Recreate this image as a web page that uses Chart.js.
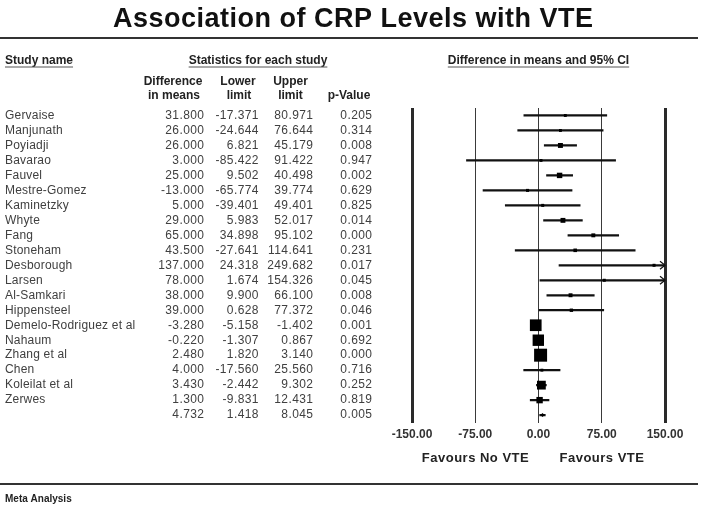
<!DOCTYPE html>
<html><head><meta charset="utf-8">
<script src="https://cdn.jsdelivr.net/npm/chart.js@4/dist/chart.umd.min.js"></script>
<style>html,body{margin:0;padding:0;background:#fff;}canvas{display:block}</style>
</head><body>
<canvas id="c" width="704" height="510"></canvas>
<script>
// ---- data ----
const studies = ['Gervaise','Manjunath','Poyiadji','Bavarao','Fauvel','Mestre-Gomez','Kaminetzky','Whyte','Fang','Stoneham','Desborough','Larsen','Al-Samkari','Hippensteel','Demelo-Rodriguez et al','Nahaum','Zhang et al','Chen','Koleilat et al','Zerwes'];
const diffs   = [31.8, 26, 26, 3, 25, -13, 5, 29, 65, 43.5, 137, 78, 38, 39, -3.28, -0.22, 2.48, 4, 3.43, 1.3];
const lowers  = [-17.371, -24.644, 6.821, -85.422, 9.502, -65.774, -39.401, 5.983, 34.898, -27.641, 24.318, 1.674, 9.9, 0.628, -5.158, -1.307, 1.82, -17.56, -2.442, -9.831];
const uppers  = [80.971, 76.644, 45.179, 91.422, 40.498, 39.774, 49.401, 52.017, 95.102, 114.641, 249.682, 154.326, 66.1, 77.372, -1.402, 0.867, 3.14, 25.56, 9.302, 12.431];
const pValues = [0.205, 0.314, 0.008, 0.947, 0.002, 0.629, 0.825, 0.014, 0.000, 0.231, 0.017, 0.045, 0.008, 0.046, 0.001, 0.692, 0.000, 0.716, 0.252, 0.819];
// relative study weights
const weights = [1.2, 1.2, 3.5, 1.2, 4.2, 1.3, 1.3, 3.4, 2.2, 1.8, 1.3, 1.3, 2.2, 1.6, 19.5, 18.5, 24.0, 1.2, 11.0, 5.8];
const summaryDiff = 4.732, summaryLower = 1.418, summaryUpper = 8.045, summaryP = 0.005;
const xTicks = [-150, -75, 0, 75, 150];

// ---- derived ----
const rowLabels = studies.concat(['']);
const allDiffs = diffs.concat([summaryDiff]);
const allLowers = lowers.concat([summaryLower]);
const allUppers = uppers.concat([summaryUpper]);
const allP = pValues.concat([summaryP]);
const FONT = '"Liberation Sans", Arial, sans-serif';

function txt(ctx, s, x, y, font, color, align, ls, base) {
  ctx.save();
  ctx.font = font; ctx.fillStyle = color; ctx.textAlign = align || 'left';
  ctx.textBaseline = base || 'middle';
  ls = ls || 0;
  if ('letterSpacing' in ctx) ctx.letterSpacing = ls + 'px';
  let xx = x;
  if (align === 'right') xx = x + ls; else if (align === 'center') xx = x + ls / 2;
  ctx.fillText(s, xx, y);
  const w = ctx.measureText(s).width;
  ctx.restore();
  return w;
}
function hline(ctx, x1, x2, y, w, color) {
  ctx.save(); ctx.strokeStyle = color; ctx.lineWidth = w;
  ctx.beginPath(); ctx.moveTo(x1, y); ctx.lineTo(x2, y); ctx.stroke(); ctx.restore();
}
function underlined(ctx, s, x, y, align) {
  const f = 'bold 12px ' + FONT;
  const w = txt(ctx, s, x, y, f, '#222', align, 0);
  let x1 = x; if (align === 'center') x1 = x - w / 2;
  hline(ctx, x1, x1 + w, y + 6.5, 1, '#555');
}

const decor = {
  id: 'decor',
  beforeDraw(chart) {
    const ctx = chart.ctx;
    ctx.save(); ctx.fillStyle = '#fff'; ctx.fillRect(0, 0, chart.width, chart.height); ctx.restore();
  },
  afterDraw(chart) {
    const ctx = chart.ctx, xs = chart.scales.x, ys = chart.scales.y, ca = chart.chartArea;
    // title + rules
    txt(ctx, 'Association of CRP Levels with VTE', 353, 27, 'bold 27px ' + FONT, '#111', 'center', 0.5, 'alphabetic');
    hline(ctx, 0, 698, 38, 2, '#333');
    hline(ctx, 0, 698, 484, 2, '#333');
    txt(ctx, 'Meta Analysis', 5, 499, 'bold 10px ' + FONT, '#222', 'left', 0);
    // headers
    underlined(ctx, 'Study name', 5, 60.5, 'left');
    underlined(ctx, 'Statistics for each study', 258, 60.5, 'center');
    underlined(ctx, 'Difference in means and 95% CI', (ca.left + ca.right) / 2, 60.5, 'center');
    const hf = 'bold 12px ' + FONT;
    txt(ctx, 'Difference', 173, 82, hf, '#222', 'center');
    txt(ctx, 'in means', 174, 96, hf, '#222', 'center');
    txt(ctx, 'Lower', 238, 82, hf, '#222', 'center');
    txt(ctx, 'limit', 239, 96, hf, '#222', 'center');
    txt(ctx, 'Upper', 290.5, 82, hf, '#222', 'center');
    txt(ctx, 'limit', 290.5, 96, hf, '#222', 'center');
    txt(ctx, 'p-Value', 349, 96, hf, '#222', 'center');
    // table body
    const bf = '12px ' + FONT, col = '#404040';
    rowLabels.forEach((name, i) => {
      const y = ys.getPixelForValue(i);
      if (name) txt(ctx, name, 5, y, bf, col, 'left', 0.2);
      txt(ctx, allDiffs[i].toFixed(3), 204, y, bf, col, 'right', 0.4);
      txt(ctx, allLowers[i].toFixed(3), 258.5, y, bf, col, 'right', 0.4);
      txt(ctx, allUppers[i].toFixed(3), 313, y, bf, col, 'right', 0.4);
      txt(ctx, allP[i].toFixed(3), 372, y, bf, col, 'right', 0.4);
      // arrowheads for intervals running past the axis
      if (allUppers[i] > xs.max) {
        const x = xs.getPixelForValue(xs.max);
        ctx.save(); ctx.strokeStyle = '#111'; ctx.lineWidth = 1.2;
        ctx.beginPath(); ctx.moveTo(x - 5, y - 4); ctx.lineTo(x, y); ctx.lineTo(x - 5, y + 4); ctx.stroke(); ctx.restore();
      }
    });
    // favours labels
    const ff = 'bold 13px ' + FONT;
    txt(ctx, 'Favours No VTE', xs.getPixelForValue(-75), 458, ff, '#222', 'center', 0.5);
    txt(ctx, 'Favours VTE', xs.getPixelForValue(75), 458, ff, '#222', 'center', 0.5);
  }
};

new Chart(document.getElementById('c'), {
  type: 'bar',
  data: {
    labels: rowLabels,
    datasets: [
      {
        type: 'bar',
        data: allLowers.map((l, i) => [l, allUppers[i]]),
        backgroundColor: '#111',
        borderWidth: 0,
        barThickness: 1.6,
        clip: 0,
        order: 2
      },
      {
        type: 'line',
        indexAxis: 'y',
        data: allDiffs,
        showLine: false,
        pointStyle: (c) => c.dataIndex < weights.length ? 'rect' : 'rectRot',
        pointRadius: (c) => {
          const w = weights[c.dataIndex];
          return w ? (2.65 * Math.sqrt(w)) / Math.SQRT2 : 2;
        },
        pointBackgroundColor: '#000',
        pointBorderWidth: 0,
        borderWidth: 0,
        clip: false,
        order: 1
      }
    ]
  },
  options: {
    indexAxis: 'y',
    responsive: false,
    animation: false,
    devicePixelRatio: 1,
    layout: { padding: { left: 412, right: 39, top: 108, bottom: 63 } },
    plugins: { legend: { display: false }, tooltip: { enabled: false }, title: { display: false } },
    scales: {
      x: {
        type: 'linear',
        min: xTicks[0], max: xTicks[xTicks.length - 1],
        afterBuildTicks: (s) => { s.ticks = xTicks.map(v => ({ value: v })); },
        border: { display: false },
        grid: {
          drawTicks: false,
          color: (c) => Math.abs(c.tick.value) === 150 ? '#2a2a2a' : '#3a3a3a',
          lineWidth: (c) => Math.abs(c.tick.value) === 150 ? 3 : 1
        },
        ticks: {
          padding: 5,
          color: '#333',
          font: { family: FONT, size: 12, weight: 'bold' },
          callback: (v) => Number(v).toFixed(2)
        }
      },
      y: {
        type: 'category',
        offset: true,
        display: false,
        grid: { display: false }
      }
    }
  },
  plugins: [decor]
});
</script>
</body></html>
